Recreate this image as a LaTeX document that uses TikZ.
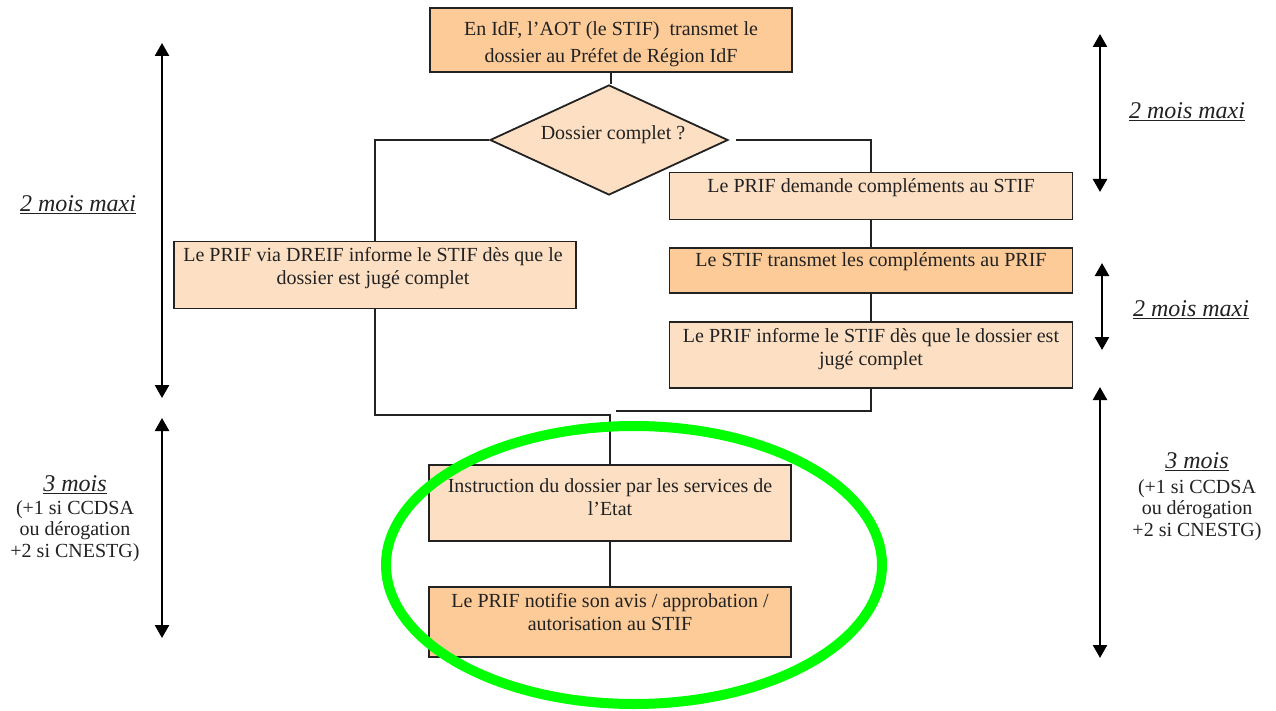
\documentclass[tikz,border=0pt]{standalone}
\usepackage{fontspec}
\setmainfont{Liberation Serif}
\usetikzlibrary{arrows.meta,shapes.geometric}
\definecolor{peach}{HTML}{FDE0C4}
\definecolor{apricot}{HTML}{FCCB98}
\definecolor{hlgreen}{HTML}{00FF00}
\definecolor{ink}{HTML}{222222}
\begin{document}
\begin{tikzpicture}[x=1pt,y=-1pt,
  box/.style={draw=ink, line width=1.8pt, fill=peach, inner sep=0pt},
  dbox/.style={box, fill=apricot},
  txt/.style={font=\fontsize{20}{23}\selectfont, align=center, inner sep=0pt, text=ink},
  conn/.style={line width=2pt, draw=ink},
  span/.style={line width=2.5pt, draw=black, {Triangle[width=14pt,length=13pt]}-{Triangle[width=14pt,length=13pt]}},
  lbl/.style={font=\fontsize{24}{26}\selectfont\itshape, inner sep=0pt, text=ink},
  note/.style={font=\fontsize{20}{21.5}\selectfont, align=center, inner sep=0pt, text=ink}]
\useasboundingbox[fill=white] (0,0) rectangle (1276,711);

% boxes
\node[dbox, minimum width=362pt, minimum height=64pt] (top) at (611,40) {};
\node[txt, font=\fontsize{20}{27}\selectfont] (toptxt) at (611,44) {En IdF, l’AOT (le STIF)\ \ transmet le\\dossier au Préfet de Région IdF};

\node[diamond, draw=ink, line width=1.8pt, fill=peach, minimum width=238pt, minimum height=110pt, inner sep=0pt] (dia) at (609,140) {};
\node[txt] (diatxt) at (613,135) {Dossier complet ?};

\node[box, minimum width=402pt, minimum height=67pt] (lft) at (375,275) {};
\node[txt] (lfttxt) at (373,268.5) {Le PRIF via DREIF informe le STIF dès que le\\dossier est jugé complet};

\node[box, minimum width=403pt, minimum height=47pt] (dem) at (871,196) {};
\node[txt] (demtxt) at (871,188) {Le PRIF demande compléments au STIF};

\node[dbox, minimum width=403pt, minimum height=45pt] (trans) at (871,270.5) {};
\node[txt] (transtxt) at (871,262) {Le STIF transmet les compléments au PRIF};

\node[box, minimum width=403pt, minimum height=66pt] (inf) at (871,355) {};
\node[txt] (inftxt) at (871,349.5) {Le PRIF informe le STIF dès que le dossier est\\jugé complet};

\node[box, minimum width=362pt, minimum height=76pt] (instr) at (610,503) {};
\node[txt] (instrtxt) at (610,497.5) {Instruction du dossier par les services de\\l’Etat};

\node[dbox, minimum width=362pt, minimum height=70pt] (notif) at (610,622) {};
\node[txt] (notiftxt) at (610,612.5) {Le PRIF notifie son avis / approbation /\\autorisation au STIF};

% connectors
\coordinate (j1) at (610,415);
\coordinate (j2) at (616,411);
\draw[conn] (top.south) -- (top.south |- dia.north);
\draw[conn] (dia.west) -| (lft.north);
\draw[conn] (lft.south) |- (j1) -- (instr.north);
\draw[conn, shorten <=7pt] (dia.east) -| (dem.north);
\draw[conn] (dem.south) -- (trans.north);
\draw[conn] (trans.south) -- (inf.north);
\draw[conn] (inf.south) |- (j2);
\draw[conn] (instr.south) -- (notif.north);

% duration spans
\coordinate (s1a) at (162,43);  \coordinate (s1b) at (162,398);
\coordinate (s2a) at (162,418); \coordinate (s2b) at (162,638);
\coordinate (s3a) at (1100,34); \coordinate (s3b) at (1100,192);
\coordinate (s4a) at (1102,263); \coordinate (s4b) at (1102,350);
\coordinate (s5a) at (1100,387); \coordinate (s5b) at (1100,658);
\draw[span] (s1a) -- (s1b);
\draw[span] (s2a) -- (s2b);
\draw[span] (s3a) -- (s3b);
\draw[span] (s4a) -- (s4b);
\draw[span] (s5a) -- (s5b);

\node[lbl] (l1) at (78,205) {\underline{2 mois maxi}};
\node[lbl] (l3) at (1187,112) {\underline{2 mois maxi}};
\node[lbl] (l4) at (1191,310) {\underline{2 mois maxi}};
\node[lbl] (l2) at (75,485) {\underline{3 mois}};
\node[note] (n2) at (75,531) {(+1 si CCDSA\\ou dérogation\\+2 si CNESTG)};
\node[lbl] (l5) at (1197,462) {\underline{3 mois}};
\node[note] (n5) at (1197,510) {(+1 si CCDSA\\ou dérogation\\+2 si CNESTG)};

% highlight
\draw[hlgreen, line width=10pt] (634,565) ellipse [x radius=248pt, y radius=139pt];
\end{tikzpicture}
\end{document}
